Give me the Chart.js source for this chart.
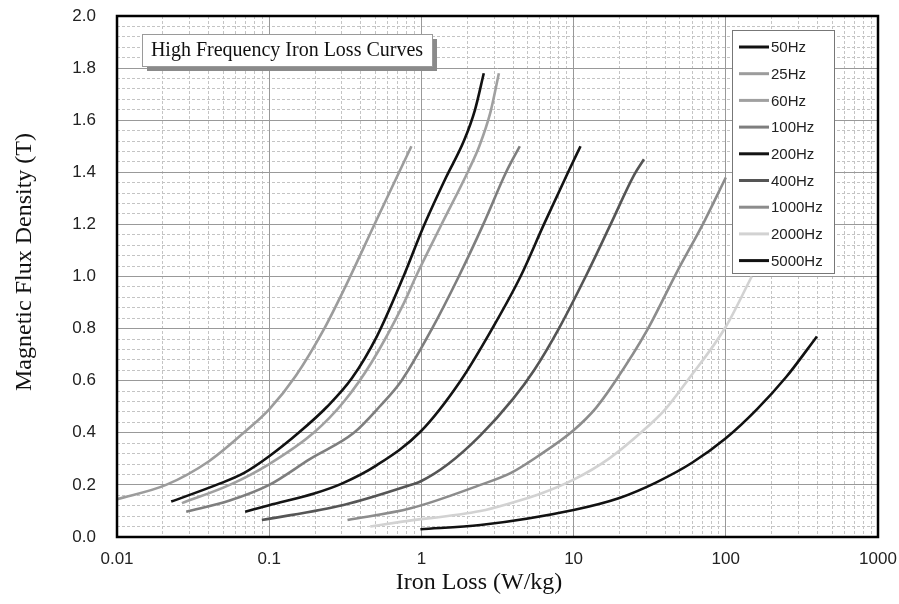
<!DOCTYPE html>
<html>
<head>
<meta charset="utf-8">
<script src="https://cdn.jsdelivr.net/npm/chart.js@4.4.1/dist/chart.umd.min.js"></script>
<style>
  html, body { margin: 0; padding: 0; background: #fff; }
</style>
</head>
<body>
<canvas id="lossChart" width="899" height="604"></canvas>
<script>
// iron loss (W/kg) against flux density (T)
var loss50 = [0.0227, 0.045, 0.068, 0.10, 0.156, 0.24, 0.35, 0.51, 0.75, 1.03, 1.45, 1.9, 2.25, 2.57];
var flux50 = [0.136, 0.20, 0.245, 0.31, 0.40, 0.50, 0.61, 0.77, 0.99, 1.19, 1.38, 1.52, 1.64, 1.78];
var loss25 = [0.01, 0.021, 0.04, 0.068, 0.10, 0.15, 0.23, 0.31, 0.51, 0.86];
var flux25 = [0.145, 0.20, 0.29, 0.40, 0.49, 0.62, 0.80, 0.95, 1.22, 1.50];
var loss60 = [0.0267, 0.055, 0.10, 0.196, 0.31, 0.47, 0.77, 0.92, 1.33, 2.05, 2.4, 2.84, 3.23];
var flux60 = [0.13, 0.20, 0.28, 0.40, 0.52, 0.67, 0.90, 1.0, 1.19, 1.41, 1.5, 1.63, 1.78];
var loss100 = [0.0285, 0.055, 0.10, 0.186, 0.36, 0.53, 0.74, 1.175, 1.76, 2.55, 3.6, 4.43];
var flux100 = [0.097, 0.14, 0.20, 0.30, 0.40, 0.50, 0.60, 0.80, 1.0, 1.2, 1.4, 1.50];
var loss200 = [0.0695, 0.10, 0.2, 0.3, 0.51, 0.985, 1.81, 2.92, 4.48, 6.38, 9.2, 11.1];
var flux200 = [0.097, 0.122, 0.168, 0.205, 0.276, 0.404, 0.60, 0.80, 1.0, 1.2, 1.4, 1.50];
var loss400 = [0.0895, 0.308, 0.8, 1.0, 1.5, 2.44, 4.0, 5.5, 8.0, 12.0, 17.5, 25.0, 29.0];
var flux400 = [0.065, 0.123, 0.195, 0.215, 0.28, 0.39, 0.53, 0.64, 0.80, 1.0, 1.2, 1.39, 1.45];
var loss1000 = [0.327, 0.85, 2.44, 3.85, 6.0, 10, 14, 18.4, 30.5, 48, 72, 100];
var flux1000 = [0.065, 0.11, 0.20, 0.245, 0.315, 0.41, 0.495, 0.59, 0.795, 1.02, 1.21, 1.38];
var loss2000 = [0.461, 0.73, 2.44, 3.85, 6.0, 10, 17, 27.6, 40, 55.9, 100, 148];
var flux2000 = [0.04, 0.058, 0.10, 0.13, 0.165, 0.22, 0.30, 0.40, 0.49, 0.60, 0.807, 1.0];
var loss5000 = [0.985, 2.44, 10, 20, 35, 60, 100, 160, 250, 397];
var flux5000 = [0.03, 0.046, 0.104, 0.15, 0.21, 0.285, 0.379, 0.49, 0.615, 0.77];

var seriesNames = ['50Hz', '25Hz', '60Hz', '100Hz', '200Hz', '400Hz', '1000Hz', '2000Hz', '5000Hz'];
var seriesLoss = [loss50, loss25, loss60, loss100, loss200, loss400, loss1000, loss2000, loss5000];
var seriesFlux = [flux50, flux25, flux60, flux100, flux200, flux400, flux1000, flux2000, flux5000];
var seriesColors = ['#111111', '#9c9c9c', '#a0a0a0', '#7e7e7e', '#141414', '#555555', '#8c8c8c', '#d2d2d2', '#111111'];

var xTicks = [0.01, 0.1, 1, 10, 100, 1000];
var yTicks = [0, 0.2, 0.4, 0.6, 0.8, 1.0, 1.2, 1.4, 1.6, 1.8, 2.0];

// minor grid positions (2..9 per decade, every 0.04 T)
var xMinor = [];
for (var d = 0.01; d < 1000; d *= 10) {
    for (var k = 2; k <= 9; k++) xMinor.push(+(d * k).toPrecision(3));
}
var yMinor = [];
for (var j = 1; j < 50; j++) {
    if (j % 5 != 0) yMinor.push(+(j * 0.04).toFixed(2));
}

var datasets = seriesNames.map(function (name, i) {
    return {
        label: name,
        data: seriesLoss[i].map(function (v, n) { return { x: v, y: seriesFlux[i][n] }; }),
        borderColor: seriesColors[i],
        backgroundColor: seriesColors[i],
        borderWidth: 2.6,
        pointRadius: 0,
        showLine: true,
        cubicInterpolationMode: 'monotone',
        xAxisID: 'x',
        yAxisID: 'y'
    };
});

var sans = "'Liberation Sans', Arial, sans-serif";
var serif = "'Liberation Serif', 'Times New Roman', serif";

var decorPlugin = {
    id: 'decor',
    beforeDraw: function (chart) {
        var ctx = chart.ctx;
        ctx.save();
        ctx.fillStyle = '#fff';
        ctx.fillRect(0, 0, chart.width, chart.height);
        ctx.restore();
    },
    afterDraw: function (chart) {
        var ctx = chart.ctx, a = chart.chartArea;
        ctx.save();

        // frame
        ctx.strokeStyle = '#000';
        ctx.lineWidth = 2.5;
        ctx.strokeRect(a.left, a.top, a.right - a.left, a.bottom - a.top);

        // title box with shadow
        var bx = a.left + 25, by = a.top + 18, bw = 290, bh = 32;
        ctx.fillStyle = '#8a8a8a';
        ctx.fillRect(bx + 5, by + 5, bw, bh);
        ctx.fillStyle = '#fff';
        ctx.fillRect(bx, by, bw, bh);
        ctx.strokeStyle = '#9a9a9a';
        ctx.lineWidth = 1;
        ctx.strokeRect(bx + 0.5, by + 0.5, bw, bh);
        ctx.fillStyle = '#111';
        ctx.font = '20px ' + serif;
        ctx.textAlign = 'center';
        ctx.textBaseline = 'middle';
        ctx.fillText('High Frequency Iron Loss Curves', bx + bw / 2, by + bh / 2 + 1);

        // legend
        var lx = a.right - 146, ly = a.top + 14, lw = 102, lh = 243;
        ctx.fillStyle = '#fff';
        ctx.fillRect(lx, ly, lw, lh);
        ctx.strokeStyle = '#777';
        ctx.strokeRect(lx + 0.5, ly + 0.5, lw, lh);
        ctx.font = '15px ' + sans;
        ctx.textAlign = 'left';
        ctx.textBaseline = 'middle';
        chart.data.datasets.forEach(function (ds, i) {
            var yy = ly + 17 + i * 26.7;
            ctx.strokeStyle = ds.borderColor;
            ctx.lineWidth = 3;
            ctx.beginPath();
            ctx.moveTo(lx + 7, yy);
            ctx.lineTo(lx + 37, yy);
            ctx.stroke();
            ctx.fillStyle = '#222';
            ctx.fillText(ds.label, lx + 39, yy + 1);
        });

        // axis titles
        ctx.fillStyle = '#111';
        ctx.font = '24px ' + serif;
        ctx.textAlign = 'center';
        ctx.textBaseline = 'middle';
        ctx.fillText('Iron Loss (W/kg)', 479, 583);
        ctx.translate(25, 262);
        ctx.rotate(-Math.PI / 2);
        ctx.fillText('Magnetic Flux Density (T)', 0, 0);
        ctx.restore();
    }
};

var ctx = document.getElementById('lossChart').getContext('2d');
var lossChart = new Chart(ctx, {
    type: 'scatter',
    data: { datasets: datasets },
    options: {
        responsive: false,
        animation: false,
        layout: { padding: 0 },
        plugins: {
            legend: { display: false },
            tooltip: { enabled: false }
        },
        scales: {
            xMinor: {
                type: 'logarithmic',
                position: 'bottom',
                min: 0.01,
                max: 1000,
                afterBuildTicks: function (s) { s.ticks = xMinor.map(function (v) { return { value: v }; }); },
                afterFit: function (s) { s.height = 0; s.paddingLeft = 0; s.paddingRight = 0; },
                ticks: { display: false },
                grid: { color: '#c4c4c4', lineWidth: 1, drawTicks: false },
                border: { display: false, dash: [3, 2] }
            },
            yMinor: {
                type: 'linear',
                position: 'left',
                min: 0,
                max: 2,
                afterBuildTicks: function (s) { s.ticks = yMinor.map(function (v) { return { value: v }; }); },
                afterFit: function (s) { s.width = 0; s.paddingTop = 0; s.paddingBottom = 0; },
                ticks: { display: false },
                grid: { color: '#c4c4c4', lineWidth: 1, drawTicks: false },
                border: { display: false, dash: [3, 2] }
            },
            x: {
                type: 'logarithmic',
                position: 'bottom',
                min: 0.01,
                max: 1000,
                afterBuildTicks: function (s) { s.ticks = xTicks.map(function (v) { return { value: v }; }); },
                afterFit: function (s) { s.height = 67; s.paddingLeft = 0; s.paddingRight = 21; },
                ticks: {
                    padding: 12,
                    color: '#222',
                    font: { family: sans, size: 17 },
                    maxRotation: 0,
                    callback: function (v) { return String(v); }
                },
                grid: { color: '#999', lineWidth: 1, drawTicks: false },
                border: { display: false }
            },
            y: {
                type: 'linear',
                position: 'left',
                min: 0,
                max: 2,
                afterBuildTicks: function (s) { s.ticks = yTicks.map(function (v) { return { value: v }; }); },
                afterFit: function (s) { s.width = 117; s.paddingTop = 16; s.paddingBottom = 0; },
                ticks: {
                    padding: 21,
                    color: '#222',
                    font: { family: sans, size: 17 },
                    callback: function (v) { return v.toFixed(1); }
                },
                grid: { color: '#999', lineWidth: 1, drawTicks: false },
                border: { display: false }
            }
        }
    },
    plugins: [decorPlugin]
});
</script>
</body>
</html>
